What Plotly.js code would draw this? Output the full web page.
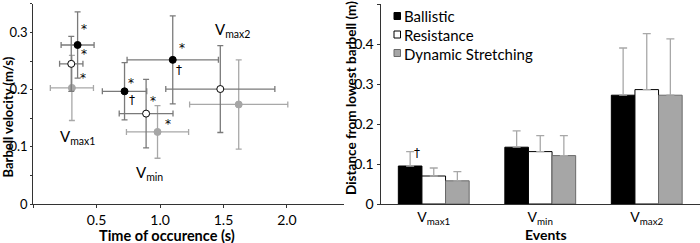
<!DOCTYPE html>
<html>
<head>
<meta charset="utf-8">
<script src="https://cdn.plot.ly/plotly-3.0.1.min.js"></script>
<style>html,body{margin:0;padding:0;background:#fff;}#chart{width:700px;height:243px;}</style>
</head>
<body>
<div id="chart"></div>
<script>
// ---- data ----
const seriesNames = ["Ballistic", "Resistance", "Dynamic Stretching"];
const events = ["V<sub>max1</sub>", "V<sub>min</sub>", "V<sub>max2</sub>"];

// left panel: time of occurrence (s) and barbell velocity (m/s) for Vmax1, Vmin, Vmax2
const ballisticTime = [0.35, 0.72, 1.10];
const ballisticTimeSD = [0.13, 0.175, 0.36];
const ballisticVel = [0.278, 0.197, 0.252];
const ballisticVelSD = [0.058, 0.05, 0.077];

const resistanceTime = [0.30, 0.89, 1.475];
const resistanceTimeSD = [0.092, 0.212, 0.43];
const resistanceVel = [0.245, 0.158, 0.201];
const resistanceVelSD = [0.048, 0.06, 0.076];

const dynamicTime = [0.305, 0.98, 1.62];
const dynamicTimeSD = [0.17, 0.245, 0.387];
const dynamicVel = [0.203, 0.126, 0.174];
const dynamicVelSD = [0.057, 0.046, 0.078];

// right panel: distance from lowest barbell (m)
const ballisticDist = [0.095, 0.142, 0.272];
const ballisticDistSD = [0.036, 0.041, 0.118];
const resistanceDist = [0.070, 0.131, 0.286];
const resistanceDistSD = [0.020, 0.040, 0.140];
const dynamicDist = [0.058, 0.121, 0.272];
const dynamicDistSD = [0.023, 0.050, 0.141];

const xTickVals = [0.5, 1.0, 1.5, 2.0];
const xTickText = ["0.5", "1.0", "1.5", "2.0"];
const yTickVals = [0, 0.1, 0.2, 0.3];
const yTickText = ["0", "0.1", "0.2", "0.3"];
const y2TickVals = [0, 0.1, 0.2, 0.3, 0.4, 0.5];
const y2TickText = ["0", "0.1", "0.2", "0.3", "0.4", "0.5"];

// ---- styles ----
const FONT = "Lato, 'Open Sans', sans-serif";
const SYMFONT = "'DejaVu Sans', 'Liberation Sans', sans-serif";
const darkErr = "#7a7a7a";
const lightErr = "#a8a8a8";
const grayFill = "#a6a6a6";

function scat(name, x, xe, y, ye, fill, line, errc) {
  return {
    type: "scatter", mode: "markers", name: name, x: x, y: y,
    xaxis: "x", yaxis: "y", showlegend: false,
    error_x: {type: "data", array: xe, visible: true, color: errc, thickness: 1.3, width: 3},
    error_y: {type: "data", array: ye, visible: true, color: errc, thickness: 1.3, width: 3},
    marker: {size: 7, color: fill, line: {color: line, width: 1}}
  };
}
function bar(name, y, ye, fill, line) {
  return {
    type: "bar", name: name, x: events, y: y, xaxis: "x2", yaxis: "y2", showlegend: false,
    marker: {color: fill, line: {color: line, width: 1}},
    error_y: {type: "data", symmetric: false, array: ye, arrayminus: ye.map(() => 0),
              visible: true, color: lightErr, thickness: 1.3, width: 4}
  };
}

const data = [
  scat(seriesNames[2], dynamicTime, dynamicTimeSD, dynamicVel, dynamicVelSD, grayFill, grayFill, lightErr),
  scat(seriesNames[1], resistanceTime, resistanceTimeSD, resistanceVel, resistanceVelSD, "#ffffff", "#000000", darkErr),
  scat(seriesNames[0], ballisticTime, ballisticTimeSD, ballisticVel, ballisticVelSD, "#000000", "#000000", darkErr),
  bar(seriesNames[0], ballisticDist, ballisticDistSD, "#000000", "#000000"),
  bar(seriesNames[1], resistanceDist, resistanceDistSD, "#ffffff", "#000000"),
  bar(seriesNames[2], dynamicDist, dynamicDistSD, grayFill, "#6a6a6a")
];

function ann(x, y, text, size, xref, yref, extra) {
  return Object.assign({x: x, y: y, xref: xref || "x", yref: yref || "y", text: text,
    xanchor: "center", yanchor: "middle",
    showarrow: false, font: {family: FONT, size: size || 14, color: "#000"}}, extra || {});
}
function sym(x, y, text, xref, yref) {
  return ann(x, y, text, 13, xref, yref, {font: {family: SYMFONT, size: 12, color: "#000"}});
}

const annotations = [
  // markers of significance, left panel
  sym(0.40, 0.306, "*"), sym(0.40, 0.263, "*"), sym(0.39, 0.221, "*"),
  sym(0.77, 0.212, "*"), sym(0.78, 0.182, "†"),
  sym(1.17, 0.273, "*"), sym(1.15, 0.234, "†"),
  sym(0.945, 0.180, "*"), sym(1.065, 0.140, "*"),
  // event labels, left panel
  ann(0.35, 0.117, "V<sub>max1</sub>", 15), ann(0.915, 0.054, "V<sub>min</sub>", 15),
  ann(1.57, 0.305, "V<sub>max2</sub>", 15),
  // dagger right panel
  sym(-0.16, 0.128, "†", "x2", "y2"),
  // axis titles
  ann(7.5 / 700, (243 - 117) / 243, "<b>Barbell velocity (m/s)</b>", 13, "paper", "paper", {textangle: -90}),
  ann(167 / 700, 8 / 243, "<b>Time of occurence (s)</b>", 14.5, "paper", "paper"),
  ann(351 / 700, (243 - 98) / 243, "<b>Distance from lowest barbell (m)</b>", 13.5, "paper", "paper", {textangle: -90}),
  ann(546 / 700, 8.5 / 243, "<b>Events</b>", 14, "paper", "paper")
];

// custom legend (compact, as in the original)
const legendFill = ["#000000", "#ffffff", grayFill];
const legendLine = ["#000000", "#000000", "#6a6a6a"];
const shapes = [];
seriesNames.forEach((n, i) => {
  const cy = 16.5 + i * 18.5;
  shapes.push({type: "rect", xref: "paper", yref: "paper",
    x0: 394 / 700, x1: 400.5 / 700, y0: (243 - cy - 3) / 243, y1: (243 - cy + 4) / 243,
    fillcolor: legendFill[i], line: {color: legendLine[i], width: 1}});
  annotations.push(ann(402 / 700, (243 - cy) / 243, n, 15, "paper", "paper", {xanchor: "left", yanchor: "middle"}));
});

const axisCommon = {showgrid: false, zeroline: false, showline: true, linecolor: "#333", linewidth: 1,
  ticks: "outside", ticklen: 3, tickcolor: "#333", tickfont: {family: FONT, size: 14, color: "#000"}, fixedrange: true};

const layout = {
  width: 700, height: 243, margin: {l: 0, r: 0, t: 0, b: 0},
  paper_bgcolor: "#fff", plot_bgcolor: "#fff",
  font: {family: FONT}, showlegend: false,
  barmode: "group", bargap: 0.335, bargroupgap: 0,
  xaxis: Object.assign({}, axisCommon, {domain: [33.2 / 700, 344 / 700], range: [0, 2.45],
    tickmode: "array", tickvals: xTickVals, ticktext: xTickText, anchor: "y",
    minor: {tick0: 0, dtick: 0.5, ticks: "outside", ticklen: 3, tickcolor: "#333", showgrid: false}}),
  yaxis: Object.assign({}, axisCommon, {domain: [39 / 243, 239.2 / 243], range: [0, 0.35],
    tickmode: "array", tickvals: yTickVals, ticktext: yTickText, anchor: "x", ticklen: 2,
    tickfont: {family: FONT, size: 13, color: "#000"},
    minor: {tick0: 0, dtick: 0.05, ticks: "outside", ticklen: 2, tickcolor: "#333", showgrid: false}}),
  xaxis2: Object.assign({}, axisCommon, {domain: [380.5 / 700, 1], range: [-0.5, 2.5], type: "category",
    ticks: "", anchor: "y2", tickfont: {family: FONT, size: 14, color: "#000"}}),
  yaxis2: Object.assign({}, axisCommon, {domain: [39 / 243, 239 / 243], range: [0, 0.5],
    tickmode: "array", tickvals: y2TickVals, ticktext: y2TickText, anchor: "x2"}),
  annotations: annotations,
  shapes: shapes
};

Plotly.newPlot("chart", data, layout, {displayModeBar: false, staticPlot: true});
</script>
</body>
</html>
